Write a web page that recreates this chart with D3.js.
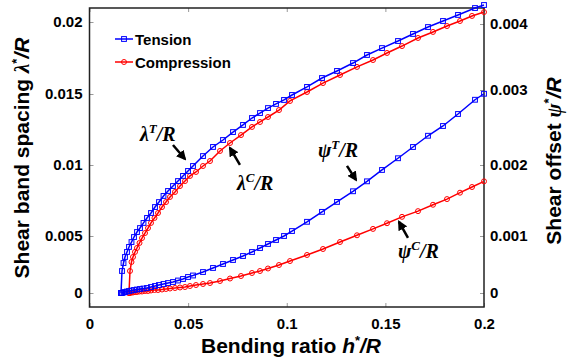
<!DOCTYPE html>
<html><head><meta charset="utf-8">
<script src="https://cdn.jsdelivr.net/npm/d3@7"></script>
<style>
body{margin:0;background:#fff;}
svg{display:block;font-family:"Liberation Sans",Arial,sans-serif;}
.tick text{font-weight:bold;font-size:15px;fill:#000;font-family:"Liberation Sans",Arial,sans-serif;}
</style></head><body>
<svg id="c" width="567" height="360"></svg>
<script>
// ---- data ----
const tensionH = [0.01597,0.01648,0.01724,0.01800,0.01901,0.02003,0.02129,0.02256,0.02408,0.02560,0.02738,0.02915,0.03118,0.03321,0.03523,0.03752,0.03980,0.04233,0.04487,0.04740,0.04994,0.05247,0.05754,0.06261,0.06768,0.07275,0.07782,0.08238,0.08644,0.09049,0.09455,0.09861,0.10266,0.11027,0.11787,0.12548,0.13359,0.14068,0.14829,0.15640,0.16400,0.17161,0.17921,0.18682,0.19544,0.2];
const tensionLambda = [0,0.00193,0.00263,0.00316,0.00360,0.00404,0.00447,0.00491,0.00528,0.00556,0.00592,0.00627,0.00662,0.00704,0.00739,0.00782,0.00817,0.00852,0.00887,0.00923,0.00958,0.00993,0.01063,0.01127,0.01176,0.01232,0.01282,0.01331,0.01366,0.01401,0.01430,0.01458,0.01493,0.01549,0.01611,0.01660,0.01715,0.01771,0.01819,0.01868,0.01917,0.01965,0.02007,0.02049,0.02097,0.02118];
const tensionPsi = [0,0,0.0000088,0.0000175,0.0000263,0.0000351,0.0000439,0.0000526,0.0000614,0.0000702,0.0000789,0.0000877,0.000105,0.000123,0.000140,0.000158,0.000175,0.000193,0.000219,0.000246,0.000281,0.000307,0.000368,0.000439,0.000509,0.000579,0.000649,0.000719,0.000789,0.000860,0.000930,0.001,0.00107,0.00120,0.00134,0.00148,0.00163,0.00177,0.00193,0.00209,0.00224,0.00239,0.00252,0.00268,0.00287,0.00295];

const compressionH = [0.02003,0.02053,0.02129,0.02205,0.02307,0.02408,0.02535,0.02662,0.02814,0.02966,0.03118,0.03295,0.03473,0.03676,0.03878,0.04081,0.04335,0.04588,0.04842,0.05095,0.05399,0.05754,0.06109,0.06616,0.07123,0.07681,0.08238,0.08644,0.09049,0.09607,0.10165,0.11027,0.11838,0.12700,0.13561,0.14373,0.15082,0.15843,0.16654,0.17414,0.18124,0.18783,0.19392,0.2];
const compressionLambda = [0,0.00193,0.00272,0.00316,0.00360,0.00395,0.00439,0.00482,0.00521,0.00556,0.00592,0.00627,0.00662,0.00704,0.00739,0.00775,0.00810,0.00852,0.00887,0.00923,0.00951,0.00993,0.01028,0.01099,0.01155,0.01211,0.01268,0.01303,0.01338,0.01387,0.01451,0.01514,0.01576,0.01632,0.01688,0.01736,0.01785,0.01833,0.01889,0.01931,0.01972,0.02007,0.02042,0.02069];
const compressionPsi = [0,0,0.0000088,0.0000088,0.0000175,0.0000175,0.0000263,0.0000263,0.0000351,0.0000351,0.0000439,0.0000526,0.0000526,0.0000614,0.0000702,0.0000789,0.0000877,0.0000965,0.000105,0.000123,0.000140,0.000158,0.000175,0.000211,0.000254,0.000298,0.000351,0.000386,0.000430,0.000491,0.000561,0.000667,0.000772,0.000895,0.00101,0.00110,0.00118,0.00127,0.00135,0.00144,0.00152,0.00161,0.00169,0.00177];

const xTicks = [0,0.05,0.1,0.15,0.2];
const xTickLabels = ["0","0.05","0.1","0.15","0.2"];
const leftTicks = [0,0.005,0.01,0.015,0.02];
const leftTickLabels = ["0","0.005","0.01","0.015","0.02"];
const rightTicks = [0,0.001,0.002,0.003,0.004];
const rightTickLabels = ["0","0.001","0.002","0.003","0.004"];
const seriesNames = ["Tension","Compression"];
const seriesColors = ["#0000ff","#ff0000"];

// ---- layout ----
const svg = d3.select("#c");
const L = 89.5, R = 484, T = 8, B = 307;
const x = d3.scaleLinear().domain([0,0.2]).range([L,R]);
// the reference's vertical axes are not evenly spaced; reproduce its tick positions
const yL = d3.scaleLinear().domain(leftTicks).range([293,236,165,94,22]);
const yR = d3.scaleLinear().domain(rightTicks).range([293,236,165,90,24]);

// axes (inward ticks)
const tickCol = "#999";
function styleAxis(g){ g.select(".domain").remove(); g.selectAll(".tick line").attr("stroke",tickCol).attr("stroke-width",1); }
svg.append("g").attr("transform",`translate(0,${B})`)
  .call(d3.axisBottom(x).tickValues(xTicks).tickFormat((d,i)=>xTickLabels[i]).tickSize(-4).tickPadding(11))
  .call(styleAxis);
svg.append("g").attr("transform",`translate(0,${T})`)
  .call(d3.axisTop(x).tickValues(xTicks).tickFormat("").tickSize(-4))
  .call(styleAxis);
svg.append("g").attr("transform",`translate(${L},0)`)
  .call(d3.axisLeft(yL).tickValues(leftTicks).tickFormat((d,i)=>leftTickLabels[i]).tickSize(-4).tickPadding(7))
  .call(styleAxis);
svg.append("g").attr("transform",`translate(${R},0)`)
  .call(d3.axisRight(yR).tickValues(rightTicks).tickFormat((d,i)=>rightTickLabels[i]).tickSize(-4).tickPadding(6))
  .call(styleAxis);

svg.append("rect").attr("x",L).attr("y",T).attr("width",R-L).attr("height",B-T)
  .attr("fill","none").attr("stroke","#222").attr("stroke-width",1.5);

// series
function drawSeries(hs, vs, yScale, color, shape){
  const pts = hs.map((h,i)=>[x(h), yScale(vs[i])]);
  svg.append("path").attr("d", d3.line()(pts)).attr("fill","none").attr("stroke",color).attr("stroke-width",1.5);
  const g = svg.append("g");
  if(shape==="square"){
    g.selectAll("rect").data(pts).join("rect")
      .attr("x",d=>d[0]-2.4).attr("y",d=>d[1]-2.4).attr("width",4.8).attr("height",4.8)
      .attr("fill","none").attr("stroke",color).attr("stroke-width",1);
  } else {
    g.selectAll("circle").data(pts).join("circle")
      .attr("cx",d=>d[0]).attr("cy",d=>d[1]).attr("r",2.5)
      .attr("fill","none").attr("stroke",color).attr("stroke-width",1);
  }
}
drawSeries(compressionH, compressionLambda, yL, seriesColors[1], "circle");
drawSeries(compressionH, compressionPsi, yR, seriesColors[1], "circle");
drawSeries(tensionH, tensionLambda, yL, seriesColors[0], "square");
drawSeries(tensionH, tensionPsi, yR, seriesColors[0], "square");

// legend
seriesNames.forEach((n,i)=>{
  const yy = 39 + i*23;
  svg.append("line").attr("x1",115).attr("x2",133).attr("y1",yy).attr("y2",yy).attr("stroke",seriesColors[i]).attr("stroke-width",1.5);
  if(i===0) svg.append("rect").attr("x",124-2.4).attr("y",yy-2.4).attr("width",4.8).attr("height",4.8).attr("fill","none").attr("stroke",seriesColors[i]);
  else svg.append("circle").attr("cx",124).attr("cy",yy).attr("r",2.5).attr("fill","none").attr("stroke",seriesColors[i]);
  svg.append("text").attr("x",135).attr("y",yy+5.5).attr("font-size",15).attr("font-weight","bold").text(n);
});

// annotations: arrow head anchored in data space, label/tail offsets in px
const defs = svg.append("defs");
defs.append("marker").attr("id","ah").attr("viewBox","0 0 10 10").attr("refX",8).attr("refY",5)
  .attr("markerWidth",4).attr("markerHeight",4).attr("orient","auto")
  .append("path").attr("d","M0,0 L10,5 L0,10 z").attr("fill","#000");
const annotations = [
  {g:"λ",s:"T",h:0.0484,v:0.01042,y:yL,tail:[-12,-14],lab:[-45,-18]},
  {g:"λ",s:"C",h:0.0712,v:0.0112,y:yL,tail:[10,17],lab:[7,42]},
  {g:"ψ",s:"T",h:0.1351,v:0.00179,y:yR,tail:[-9,-14],lab:[-38,-23]},
  {g:"ψ",s:"C",h:0.1569,v:0.0012,y:yR,tail:[9,16],lab:[-1,36]}
];
annotations.forEach(a=>{
  const hx = x(a.h), hy = a.y(a.v);
  svg.append("line").attr("x1",hx+a.tail[0]).attr("y1",hy+a.tail[1]).attr("x2",hx).attr("y2",hy)
    .attr("stroke","#000").attr("stroke-width",2.5).attr("marker-end","url(#ah)");
  const t = svg.append("text").attr("x",hx+a.lab[0]).attr("y",hy+a.lab[1])
    .attr("font-family","'Liberation Serif','Times New Roman',serif").attr("font-style","italic").attr("font-weight","bold").attr("font-size",20);
  t.append("tspan").text(a.g);
  t.append("tspan").attr("font-size",13).attr("dy",-8).text(a.s);
  t.append("tspan").attr("dy",8).text("/R");
});

// axis titles
function title(sel, parts){
  parts.forEach(p=>{
    const ts = sel.append("tspan").text(p.t);
    if(p.serif) ts.attr("font-family","'Liberation Serif','Times New Roman',serif");
    if(p.it) ts.attr("font-style","italic");
    if(p.sup){ ts.attr("font-size",13).attr("dy",-8); }
    if(p.down) ts.attr("dy",8);
  });
}
const xt = svg.append("text").attr("x",291).attr("y",353).attr("text-anchor","middle").attr("font-size",21).attr("font-weight","bold");
title(xt,[{t:"Bending ratio "},{t:"h",it:true},{t:"*",sup:true},{t:"/R",it:true,down:true}]);
const yt = svg.append("text").attr("transform","translate(29,158) rotate(-90)").attr("text-anchor","middle").attr("font-size",21).attr("font-weight","bold");
title(yt,[{t:"Shear band spacing "},{t:"λ",it:true,serif:true},{t:"*",sup:true},{t:"/R",it:true,down:true}]);
const yt2 = svg.append("text").attr("transform","translate(561,161) rotate(-90)").attr("text-anchor","middle").attr("font-size",21).attr("font-weight","bold");
title(yt2,[{t:"Shear offset "},{t:"ψ",it:true,serif:true},{t:"*",sup:true},{t:"/R",it:true,down:true}]);
</script></body></html>
